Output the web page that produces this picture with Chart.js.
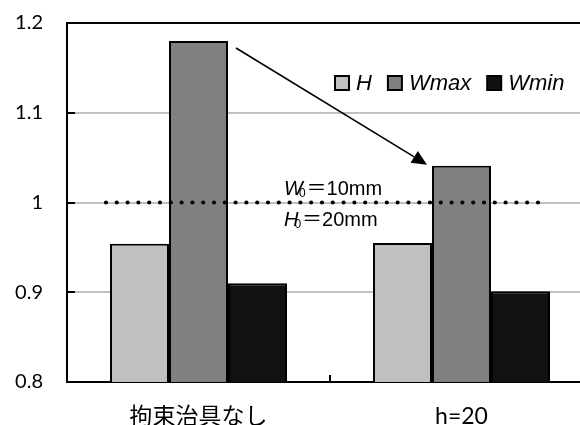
<!DOCTYPE html>
<html><head><meta charset="utf-8">
<script src="https://cdn.jsdelivr.net/npm/chart.js@4/dist/chart.umd.min.js"></script>
<style>
html,body{margin:0;padding:0;overflow:hidden;background:#fff;}
#wrap{width:580px;height:425px;overflow:hidden;position:relative;}
#inner{width:600px;height:425px;position:absolute;left:0;top:0;}
</style></head>
<body>
<div id="wrap"><div id="inner"><canvas id="c"></canvas></div></div>
<script>
const categories = ['拘束治具なし', 'h=20'];
const seriesNames = ['H', 'Wmax', 'Wmin'];
const hValues = [0.954, 0.955];
const wmaxValues = [1.18, 1.041];
const wminValues = [0.91, 0.901];
const seriesColors = ['#c0c0c0', '#808080', '#111111'];
const yTickLabels = ['0.8', '0.9', '1', '1.1', '1.2'];
const yTickValues = [0.8, 0.9, 1.0, 1.1, 1.2];
const referenceLine = [1.0];
const annotationLines = [['W', '0', '＝10mm'], ['H', '0', '＝20mm']];

const tickFont = "Lato, 'Noto Sans CJK JP', sans-serif";

const overlay = {
  id: 'overlay',
  afterDatasetsDraw(chart) {
    const {ctx, chartArea, scales: {x, y}} = chart;
    const m0 = chart.getDatasetMeta(0), m1 = chart.getDatasetMeta(1), m2 = chart.getDatasetMeta(2);
    ctx.save();
    ctx.strokeStyle = '#000'; ctx.lineWidth = 2;
    yTickValues.forEach(v => {
      if (v === yTickValues[0] || v === yTickValues[yTickValues.length - 1]) return;
      const py = Math.round(y.getPixelForValue(v));
      ctx.beginPath(); ctx.moveTo(chartArea.left, py); ctx.lineTo(chartArea.left + 8, py); ctx.stroke();
    });
    const xb = (x.getPixelForValue(0) + x.getPixelForValue(1)) / 2;
    ctx.beginPath(); ctx.moveTo(xb, chartArea.bottom); ctx.lineTo(xb, chartArea.bottom - 7); ctx.stroke();

    const yRef = y.getPixelForValue(referenceLine[0]);
    const b0 = m0.data[0], bE = m2.data[1];
    const lx = b0.x - b0.width / 2 - 4, rx = bE.x + bE.width / 2 - 2;
    ctx.setLineDash([0, 10.8]); ctx.lineCap = 'round'; ctx.lineWidth = 4.2;
    ctx.beginPath(); ctx.moveTo(lx, yRef); ctx.lineTo(rx, yRef); ctx.stroke();
    ctx.setLineDash([]); ctx.lineCap = 'butt';

    const a = m1.data[0], b = m1.data[1];
    const sx = a.x + a.width / 2 + 8, sy = a.y + 7;
    const ex = b.x - b.width / 2 - 5, ey = b.y - 1;
    const ang = Math.atan2(ey - sy, ex - sx);
    const hl = 15, hw = 7;
    const bx = ex - hl * Math.cos(ang), by = ey - hl * Math.sin(ang);
    ctx.lineWidth = 1.6;
    ctx.beginPath(); ctx.moveTo(sx, sy); ctx.lineTo(bx, by); ctx.stroke();
    ctx.fillStyle = '#000';
    ctx.beginPath();
    ctx.moveTo(ex, ey);
    ctx.lineTo(bx + hw * Math.sin(ang), by - hw * Math.cos(ang));
    ctx.lineTo(bx - hw * Math.sin(ang), by + hw * Math.cos(ang));
    ctx.closePath(); ctx.fill();

    const tx = 284;
    const baselines = [yRef - 8, yRef + 23];
    ctx.textBaseline = 'alphabetic'; ctx.textAlign = 'left'; ctx.fillStyle = '#000';
    annotationLines.forEach((parts, i) => {
      let cx = tx;
      const by0 = baselines[i];
      ctx.font = "italic 20px 'Liberation Sans', sans-serif";
      ctx.fillText(parts[0], cx, by0);
      cx += ctx.measureText(parts[0]).width - 4;
      ctx.font = "12px 'Liberation Sans', sans-serif";
      ctx.fillText(parts[1], cx, by0 + 2);
      cx += ctx.measureText(parts[1]).width + 1;
      ctx.font = "20px 'Liberation Sans', 'Noto Sans CJK JP', sans-serif";
      ctx.fillText(parts[2], cx, by0);
    });

    let lxp = 335;
    const ly = 76, bs = 14;
    ctx.font = "italic 22px 'Liberation Sans', sans-serif";
    seriesNames.forEach((name, i) => {
      ctx.fillStyle = seriesColors[i];
      ctx.fillRect(lxp, ly, bs, bs);
      ctx.strokeStyle = '#000'; ctx.lineWidth = 2;
      ctx.strokeRect(lxp, ly, bs, bs);
      ctx.fillStyle = '#000';
      ctx.textBaseline = 'middle';
      ctx.fillText(name, lxp + 21, ly + bs / 2 + 1);
      lxp += 21 + ctx.measureText(name).width + 16;
    });
    ctx.restore();
  }
};

new Chart(document.getElementById('c'), {
  type: 'bar',
  data: {
    labels: categories,
    datasets: [
      {label: seriesNames[0], data: hValues, backgroundColor: seriesColors[0]},
      {label: seriesNames[1], data: wmaxValues, backgroundColor: seriesColors[1]},
      {label: seriesNames[2], data: wminValues, backgroundColor: seriesColors[2]}
    ].map(d => Object.assign(d, {borderColor: '#000', borderWidth: 2, barPercentage: 1, categoryPercentage: 0.673}))
  },
  options: {
    responsive: true,
    maintainAspectRatio: false,
    animation: false,
    layout: {padding: {left: 0, top: 23, right: 7, bottom: 0}},
    plugins: {legend: {display: false}, tooltip: {enabled: false}},
    scales: {
      x: {
        grid: {display: false},
        border: {display: true, color: '#000', width: 2},
        ticks: {color: '#000', font: {family: tickFont, size: 23}, padding: 13},
        afterFit(s) { s.height = 43; }
      },
      y: {
        min: 0.8, max: 1.2,
        afterBuildTicks(s) { s.ticks = yTickValues.map(v => ({value: v})); },
        grid: {
          drawTicks: true,
          tickLength: 24,
          tickColor: 'rgba(0,0,0,0)',
          color: c => (c.tick && (Math.abs(c.tick.value - 1.2) < 1e-9 || Math.abs(c.tick.value - 0.8) < 1e-9)) ? '#000' : '#c0c0c0',
          lineWidth: 2
        },
        border: {display: true, color: '#000', width: 2},
        ticks: {
          color: '#000', font: {family: tickFont, size: 20}, padding: 0,
          callback: (v, i) => yTickLabels[i]
        },
        afterFit(s) { s.width = 67; }
      }
    }
  },
  plugins: [overlay]
});
</script>
</body></html>
